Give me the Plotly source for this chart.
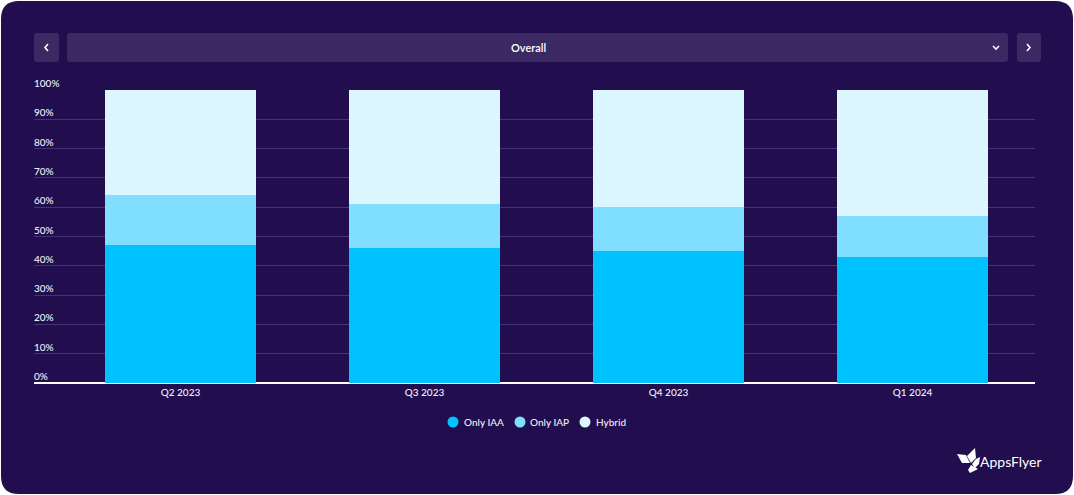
import plotly.graph_objects as go

WIDTH = 1074
HEIGHT = 495
PLOT_LEFT, PLOT_RIGHT = 34, 1035
PLOT_TOP, PLOT_BOTTOM = 90, 383
PANEL = "#220d4e"
BUTTON = "#3c2862"
FONT = "Lato"
LABEL = "#f0f0f8"

# Share of apps per monetization model (%)
quarters = ["Q2 2023", "Q3 2023", "Q4 2023", "Q1 2024"]
series = {
    "Only IAA": ([47, 46, 45, 43], "#00c2ff"),
    "Only IAP": ([17, 15, 15, 14], "#80dfff"),
    "Hybrid": ([36, 39, 40, 43], "#dcf6ff"),
}
# Legend positions on the page: marker centre x, text start x
legend_pos = {"Only IAA": (453, 461.5), "Only IAP": (520, 527.5), "Hybrid": (585, 593.5)}


# Paper coordinates are relative to the plot area, so convert from page pixels
def px_x(x):
    return (x - PLOT_LEFT) / (PLOT_RIGHT - PLOT_LEFT)


def px_y(y):
    return (PLOT_BOTTOM - y) / (PLOT_BOTTOM - PLOT_TOP)


def rounded_rect(x0, y0, x1, y1, r, fill, layer="below"):
    points = (
        f"M {px_x(x0 + r)} {px_y(y0)} L {px_x(x1 - r)} {px_y(y0)} "
        f"Q {px_x(x1)} {px_y(y0)} {px_x(x1)} {px_y(y0 + r)} "
        f"L {px_x(x1)} {px_y(y1 - r)} "
        f"Q {px_x(x1)} {px_y(y1)} {px_x(x1 - r)} {px_y(y1)} "
        f"L {px_x(x0 + r)} {px_y(y1)} "
        f"Q {px_x(x0)} {px_y(y1)} {px_x(x0)} {px_y(y1 - r)} "
        f"L {px_x(x0)} {px_y(y0 + r)} "
        f"Q {px_x(x0)} {px_y(y0)} {px_x(x0 + r)} {px_y(y0)} Z"
    )
    return dict(type="path", xref="paper", yref="paper", path=points,
                fillcolor=fill, line_width=0, layer=layer)


def polyline(points, color, closed=False, width=1.6):
    path = "M " + " L ".join(f"{px_x(x)} {px_y(y)}" for x, y in points)
    if closed:
        path += " Z"
    shape = dict(type="path", xref="paper", yref="paper", path=path, layer="above")
    if closed:
        shape.update(fillcolor=color, line_width=0)
    else:
        shape.update(line=dict(color=color, width=width))
    return shape


def page_text(text, x, y, size=10, color=LABEL, anchor="left", weight=500):
    return dict(text=text, x=px_x(x), y=px_y(y), xref="paper", yref="paper",
                xanchor=anchor, yanchor="middle", showarrow=False,
                font=dict(size=size, color=color, weight=weight))


fig = go.Figure()

for name, (values, color) in series.items():
    fig.add_trace(
        go.Bar(
            name=name,
            x=quarters,
            y=values,
            width=0.619,
            marker=dict(color=color, line_width=0),
            hoverinfo="skip",
        )
    )

shapes = [
    rounded_rect(1, 1, 1073, 494, 18, PANEL),
    rounded_rect(34, 33, 59, 62, 3, BUTTON),
    rounded_rect(67, 33, 1008, 62, 3, BUTTON),
    rounded_rect(1017, 33, 1041, 62, 3, BUTTON),
    # Chevrons
    polyline([(48, 44), (45, 47.5), (48, 51)], "white"),
    polyline([(1027, 44), (1030, 47.5), (1027, 51)], "white"),
    polyline([(993, 46), (996, 49), (999, 46)], "white"),
    # Logo
    polyline([(957, 454), (966, 455), (970, 463), (962, 463)], "white", closed=True),
    polyline([(967, 456), (975, 448), (976, 458), (971, 463)], "white", closed=True),
    polyline([(972, 464), (976, 459), (980, 457), (979, 464), (975, 468)], "white", closed=True),
    polyline([(968, 470), (971, 465), (978, 469), (970, 473)], "white", closed=True),
]

annotations = [
    page_text("Overall", 528, 47, size=11, color="white", anchor="center", weight=600),
    page_text("AppsFlyer", 977.5, 461, size=14, color="white", weight=400),
]

# Legend is drawn by hand: the built-in one keeps markers too far from the text
for name, (mark_x, text_x) in legend_pos.items():
    color = series[name][1]
    shapes.append(
        dict(type="circle", xref="paper", yref="paper", layer="above",
             x0=px_x(mark_x - 5.5), x1=px_x(mark_x + 5.5),
             y0=px_y(422 + 5.5), y1=px_y(422 - 5.5),
             fillcolor=color, line_width=0)
    )
    annotations.append(page_text(name, text_x, 422))

# y tick labels sit on top of the grid lines, left aligned
for tick in range(0, 101, 10):
    annotations.append(
        dict(text=f"{tick}%", x=0, y=tick, xref="paper", yref="y",
             xanchor="left", yanchor="bottom", yshift=-1, xshift=-2, showarrow=False,
             font=dict(size=10, color=LABEL, weight=500))
    )

fig.update_layout(
    width=WIDTH,
    height=HEIGHT,
    barmode="stack",
    paper_bgcolor="white",
    plot_bgcolor="rgba(0,0,0,0)",
    margin=dict(l=PLOT_LEFT, r=WIDTH - PLOT_RIGHT, t=PLOT_TOP, b=HEIGHT - PLOT_BOTTOM),
    font=dict(family=FONT, color="white", size=10),
    shapes=shapes,
    annotations=annotations,
    showlegend=False,
)

fig.update_xaxes(
    type="category",
    categoryorder="array",
    categoryarray=quarters,
    range=[-0.6004, 3.502],
    showgrid=False,
    showline=False,
    ticks="",
    ticklabelstandoff=2,
    tickfont=dict(size=10, color=LABEL, weight=500),
    zeroline=False,
)
fig.update_yaxes(
    range=[0, 100],
    dtick=10,
    showticklabels=False,
    gridcolor="#46327a",
    gridwidth=1,
    zeroline=True,
    zerolinecolor="white",
    zerolinewidth=2,
    showline=False,
    ticks="",
)

fig.write_html(
    "out.html",
    config=dict(displayModeBar=False),
    post_script="document.body.style.margin='0';",
)
